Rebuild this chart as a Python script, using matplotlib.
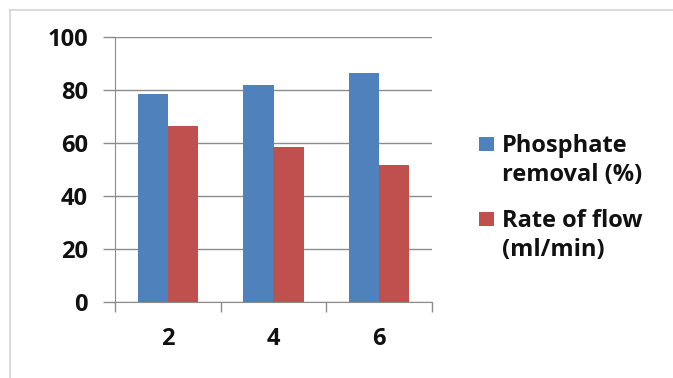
import matplotlib
matplotlib.use("Agg")
import matplotlib.pyplot as plt
from matplotlib.patches import Rectangle
from matplotlib.lines import Line2D
import numpy as np

categories = ["2", "4", "6"]
phosphate_removal = [78.5, 81.8, 86.5]
rate_of_flow = [66.5, 58.4, 51.6]
series_labels = ["Phosphate\nremoval (%)", "Rate of flow\n(ml/min)"]
series_colors = ["#4F81BD", "#C0504D"]
y_ticks = [0, 20, 40, 60, 80, 100]

plt.rcParams['font.family'] = ['Open Sans', 'DejaVu Sans']

W, H = 673, 378
FS = 17
WEIGHT = "bold"
fig = plt.figure(figsize=(W / 100, H / 100), dpi=100)
fig.patch.set_facecolor("white")

# outer chart border
fig.add_artist(Line2D([10 / W, 1.0], [1 - 10 / H, 1 - 10 / H], color="#d4d4d4", lw=1.2, transform=fig.transFigure))
fig.add_artist(Line2D([10 / W, 10 / W], [0, 1 - 10 / H], color="#d4d4d4", lw=1.2, transform=fig.transFigure))

ax = fig.add_axes([115 / W, 1 - 302 / H, (432 - 115) / W, (302 - 37) / H])

x = np.arange(len(categories))
bw = 0.285
ax.bar(x - bw / 2, phosphate_removal, width=bw, color=series_colors[0], zorder=3)
ax.bar(x + bw / 2, rate_of_flow, width=bw, color=series_colors[1], zorder=3)

ax.set_xlim(-0.5, len(categories) - 0.5)
ax.set_ylim(0, 100)
ax.set_yticks(y_ticks)
ax.set_yticklabels([str(v) for v in y_ticks])
ax.set_xticks(x)
ax.set_xticklabels(categories)
ax.set_xticks(np.arange(len(categories) + 1) - 0.5, minor=True)

grid_color = "#8c8c8c"
ax.yaxis.grid(True, color=grid_color, lw=1.0, zorder=0)
ax.set_axisbelow(True)
for s in ["top", "right"]:
    ax.spines[s].set_visible(False)
ax.spines["left"].set_color(grid_color)
ax.spines["bottom"].set_color(grid_color)

ax.tick_params(axis="y", length=8.5, width=1, color=grid_color, pad=11, labelsize=FS)
ax.tick_params(axis="x", which="major", length=0, pad=18, labelsize=FS)
ax.tick_params(axis="x", which="minor", length=7, width=1, color=grid_color)
for lab in ax.get_xticklabels() + ax.get_yticklabels():
    lab.set_fontweight(WEIGHT)
    lab.set_color("#111111")

# legend (drawn manually to match layout)
legend_baselines = [152, 227]
line_gap = 29
for base, col, lab in zip(legend_baselines, series_colors, series_labels):
    fig.add_artist(Rectangle((479 / W, 1 - (base - 1) / H), 15 / W, 14 / H,
                             facecolor=col, edgecolor="none", transform=fig.transFigure))
    for i, line in enumerate(lab.split("\n")):
        fig.text(502 / W, 1 - (base + i * line_gap) / H, line, ha="left", va="baseline",
                 fontsize=FS, fontweight=WEIGHT, color="#111111")

fig.savefig("out.png", dpi=100)
